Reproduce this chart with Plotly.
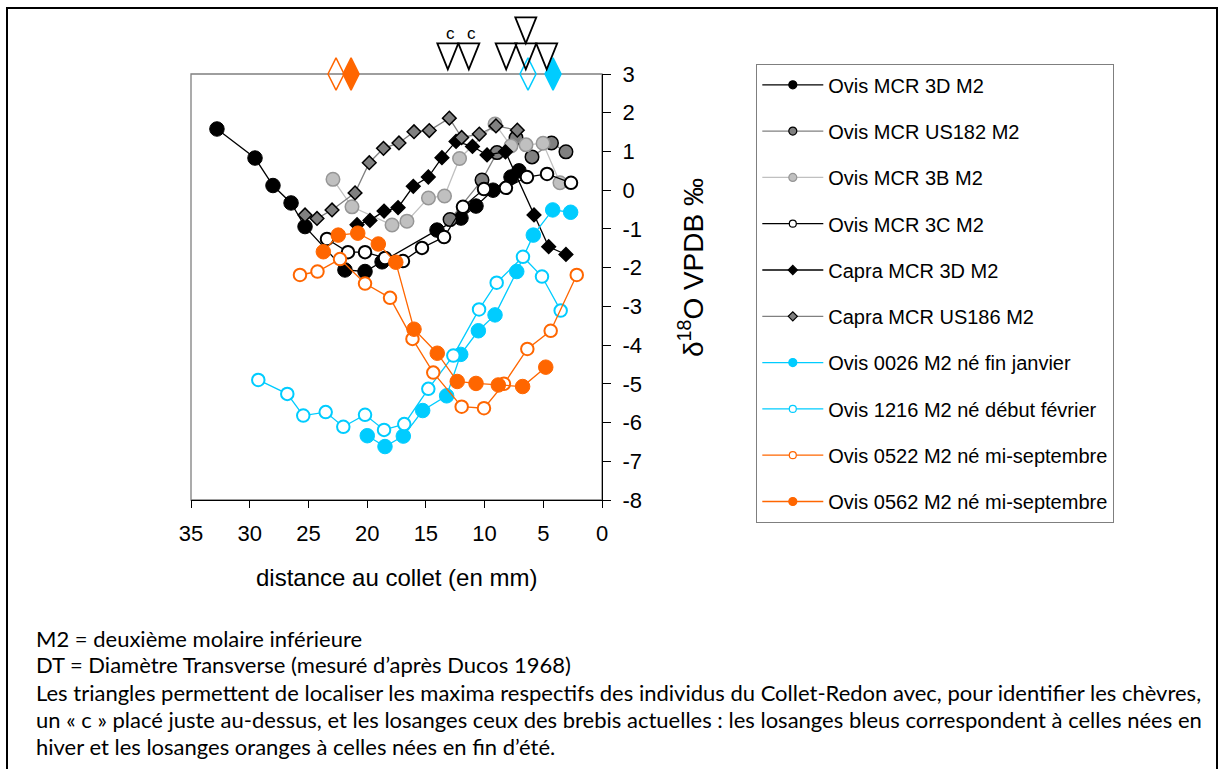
import plotly.graph_objects as go

# ---------------- data (distance au collet in mm, d18O in per mil) ----------------
ovis_3d_x = [32.79, 29.55, 28.02, 26.48, 25.29, 21.89, 20.18, 18.73, 14.05, 12.01, 10.73, 9.28, 7.75, 7.07]
ovis_3d_y = [1.58, 0.83, 0.12, -0.33, -0.94, -2.06, -2.10, -1.85, -1.03, -0.72, -0.41, 0.00, 0.34, 0.50]

ovis_us182_x = [12.94, 10.22, 8.94, 7.32, 5.96, 4.30, 3.07]
ovis_us182_y = [-0.76, 0.26, 0.97, 1.35, 0.86, 1.22, 0.99]

ovis_3b_x = [22.91, 21.29, 17.88, 16.61, 14.78, 13.41, 12.13, 9.11, 7.75, 6.47, 5.02, 3.58]
ovis_3b_y = [0.28, -0.43, -0.90, -0.80, -0.20, -0.15, 0.82, 1.71, 1.14, 1.17, 1.21, 0.19]

ovis_3c_x = [23.42, 21.63, 20.18, 18.48, 16.95, 15.33, 13.45, 11.84, 10.05, 8.18, 6.39, 4.68, 2.64]
ovis_3c_y = [-1.26, -1.60, -1.60, -1.75, -1.83, -1.49, -1.21, -0.43, 0.03, 0.06, 0.34, 0.42, 0.19]

capra_3d_x = [20.86, 19.76, 18.56, 17.37, 16.07, 14.79, 13.63, 12.43, 11.03, 9.79, 8.22, 5.79, 4.54, 3.07]
capra_3d_y = [-0.89, -0.78, -0.54, -0.45, 0.10, 0.34, 0.84, 1.26, 1.13, 0.91, 0.99, -0.64, -1.46, -1.66]

capra_us186_x = [25.29, 24.27, 22.99, 21.03, 19.82, 18.61, 17.29, 16.01, 14.71, 13.00, 11.95, 10.45, 9.03, 7.21]
capra_us186_y = [-0.64, -0.73, -0.51, -0.07, 0.71, 1.08, 1.22, 1.51, 1.54, 1.86, 1.36, 1.45, 1.66, 1.55]

ovis_0026_x = [19.99, 18.48, 16.92, 15.27, 13.23, 12.03, 10.53, 9.11, 7.26, 5.85, 4.20, 2.67]
ovis_0026_y = [-6.34, -6.62, -6.35, -5.69, -5.31, -4.24, -3.63, -3.22, -2.10, -1.16, -0.51, -0.57]

ovis_1216_x = [29.27, 26.80, 25.44, 23.53, 22.03, 20.18, 18.56, 16.84, 14.79, 12.66, 10.47, 8.97, 6.73, 5.11, 3.52]
ovis_1216_y = [-4.90, -5.26, -5.82, -5.73, -6.11, -5.80, -6.19, -6.04, -5.13, -4.27, -3.08, -2.39, -1.72, -2.23, -3.11]

ovis_0522_x = [25.72, 24.23, 22.31, 20.18, 18.05, 16.14, 14.37, 11.95, 10.05, 8.35, 6.36, 4.37, 2.15]
ovis_0522_y = [-2.19, -2.10, -1.78, -2.41, -2.78, -3.84, -4.71, -5.59, -5.63, -5.00, -4.10, -3.63, -2.19]

ovis_0562_x = [23.73, 22.46, 20.80, 19.05, 17.56, 16.01, 14.03, 12.33, 10.73, 8.83, 6.76, 4.79]
ovis_0562_y = [-1.59, -1.16, -1.11, -1.39, -1.86, -3.59, -4.21, -4.94, -4.99, -5.03, -5.07, -4.57]

# maxima markers drawn along the top edge (distance in mm)
max_summer_open = [22.65]
max_summer_filled = [21.37]
max_winter_open = [6.30]
max_winter_filled = [4.17]
max_goats = [13.13, 11.34]           # triangles with a "c"
max_sheep_row = [8.16, 6.49, 4.71]   # triangles, first row
max_sheep_stack = [6.49]             # triangle stacked above
top_value = 3

x_ticks = [35, 30, 25, 20, 15, 10, 5, 0]
y_ticks = [3, 2, 1, 0, -1, -2, -3, -4, -5, -6, -7, -8]
y_tick_text = ["3", "2", "1", "0", "-1", "-2", "-3", "-4", "-5", "-6", "-7", "-8"]

caption_lines = [
    "M2 = deuxième molaire inférieure",
    "DT = Diamètre Transverse (mesuré d’après Ducos 1968)",
    "Les triangles permettent de localiser les maxima respectifs des individus du Collet-Redon avec, pour identifier les chèvres,",
    "un « c » placé juste au-dessus, et les losanges ceux des brebis actuelles : les losanges bleus correspondent à celles nées en",
    "hiver et les losanges oranges à celles nées en fin d’été.",
]

# ---------------- layout geometry ----------------
W, H = 1225, 769
PL, PR, PT, PB = 191, 602, 74, 500


def px_x(px):
    return (px - PL) / (PR - PL)


def px_y(py):
    return (PB - py) / (PB - PT)


ARIAL = "Liberation Sans, Arial, sans-serif"
BLACK = "#000000"
CYAN = "#00ccff"
ORANGE = "#ff6600"

series = [
    dict(name="Ovis MCR 3D M2", x=ovis_3d_x, y=ovis_3d_y, line=BLACK, symbol="circle",
         fill=BLACK, edge=BLACK, size=14.5, ew=1, lsize=8),
    dict(name="Ovis MCR US182 M2", x=ovis_us182_x, y=ovis_us182_y, line="#808080", symbol="circle",
         fill="#808080", edge=BLACK, size=13.5, ew=1.5, lsize=8),
    dict(name="Ovis MCR 3B M2", x=ovis_3b_x, y=ovis_3b_y, line="#c0c0c0", symbol="circle",
         fill="#c0c0c0", edge="#969696", size=13.5, ew=1.5, lsize=8),
    dict(name="Ovis MCR 3C M2", x=ovis_3c_x, y=ovis_3c_y, line=BLACK, symbol="circle",
         fill="#ffffff", edge=BLACK, size=12.5, ew=2, lsize=7),
    dict(name="Capra MCR 3D M2", x=capra_3d_x, y=capra_3d_y, line=BLACK, symbol="diamond",
         fill=BLACK, edge=BLACK, size=10.5, ew=1.5, lsize=7),
    dict(name="Capra MCR US186 M2", x=capra_us186_x, y=capra_us186_y, line="#808080", symbol="diamond",
         fill="#808080", edge=BLACK, size=10.5, ew=1.5, lsize=7),
    dict(name="Ovis 0026 M2 né fin janvier", x=ovis_0026_x, y=ovis_0026_y, line=CYAN, symbol="circle",
         fill=CYAN, edge=CYAN, size=14.5, ew=1, lsize=8),
    dict(name="Ovis 1216 M2 né début février", x=ovis_1216_x, y=ovis_1216_y, line=CYAN, symbol="circle",
         fill="#ffffff", edge=CYAN, size=12.5, ew=2, lsize=7),
    dict(name="Ovis 0522 M2 né mi-septembre", x=ovis_0522_x, y=ovis_0522_y, line=ORANGE, symbol="circle",
         fill="#ffffff", edge=ORANGE, size=12.5, ew=2, lsize=7),
    dict(name="Ovis 0562 M2 né mi-septembre", x=ovis_0562_x, y=ovis_0562_y, line=ORANGE, symbol="circle",
         fill=ORANGE, edge=ORANGE, size=14.5, ew=1, lsize=8),
]

fig = go.Figure()

for i, s in enumerate(series):
    fig.add_trace(go.Scatter(
        x=s["x"], y=s["y"], mode="lines+markers", name=s["name"], showlegend=False,
        line=dict(color=s["line"], width=1.3),
        marker=dict(symbol=s["symbol"], size=s["size"], color=s["fill"],
                    line=dict(color=s["edge"], width=s["ew"])),
        cliponaxis=False,
    ))

# legend-only entries (small markers as in the reference legend)
for i, s in enumerate(series):
    fig.add_trace(go.Scatter(
        x=[None], y=[None], mode="lines+markers", name=s["name"], showlegend=True,
        legendgroup="g%d" % i,
        line=dict(color=s["line"], width=1.3),
        marker=dict(symbol=s["symbol"], size=s["lsize"], color=s["fill"],
                    line=dict(color=s["edge"], width=1.2)),
    ))

# maxima diamonds on the top edge
for xs, col, sym in [(max_summer_open, ORANGE, "diamond-tall-open"),
                     (max_summer_filled, ORANGE, "diamond-tall"),
                     (max_winter_open, CYAN, "diamond-tall-open"),
                     (max_winter_filled, CYAN, "diamond-tall")]:
    fig.add_trace(go.Scatter(
        x=xs, y=[top_value] * len(xs), mode="markers", showlegend=False, cliponaxis=False,
        marker=dict(symbol=sym, size=23, color=col, line=dict(color=col, width=1.5)),
        hoverinfo="skip",
    ))

shapes = []
# plot frame (grey top/left edges)
shapes.append(dict(type="rect", xref="paper", yref="paper", x0=0, x1=1, y0=0, y1=1,
                   line=dict(color="#7f7f7f", width=1.3), layer="below"))
# outer border
shapes.append(dict(type="rect", xref="paper", yref="paper",
                   x0=px_x(7), x1=px_x(1217), y0=px_y(800), y1=px_y(8),
                   line=dict(color=BLACK, width=2)))

TRI_HALF, TRI_H = 10.5, 26


def tri(xv, base):
    # x from the data axis; vertical placement in pixels above the top edge of the plot
    return dict(type="path", xref="x", yref="paper", xsizemode="pixel", ysizemode="pixel",
                xanchor=xv, yanchor=1,
                path="M-%g,%g L%g,%g L0,%g Z" % (TRI_HALF, base + TRI_H, TRI_HALF, base + TRI_H, base),
                line=dict(color=BLACK, width=1.8), fillcolor="rgba(0,0,0,0)")


for xv in max_goats + max_sheep_row:
    shapes.append(tri(xv, 4.7))
for xv in max_sheep_stack:
    shapes.append(tri(xv, 4.7 + TRI_H))

annotations = []
for xv in max_goats:
    annotations.append(dict(x=xv, y=top_value, xref="x", yref="y", text="c", showarrow=False,
                            xshift=3, yshift=41, font=dict(family=ARIAL, size=17, color=BLACK)))

# axis titles
annotations.append(dict(x=0.5, y=px_y(577), xref="paper", yref="paper",
                        xanchor="center", yanchor="middle",
                        text="distance au collet (en mm)", showarrow=False,
                        font=dict(family=ARIAL, size=24, color=BLACK)))
annotations.append(dict(x=px_x(691), y=px_y(268), xref="paper", yref="paper",
                        xanchor="center", yanchor="middle",
                        text="δ<sup>18</sup>O VPDB ‰", textangle=-90, showarrow=False,
                        font=dict(family=ARIAL, size=28, color=BLACK)))

# caption
cap_y = [638, 664, 692, 719, 746]
for t, yy in zip(caption_lines, cap_y):
    annotations.append(dict(x=px_x(34), y=px_y(yy), xref="paper", yref="paper", text=t,
                            showarrow=False, xanchor="left", yanchor="middle",
                            font=dict(family="Lato, sans-serif", size=22, color=BLACK)))

fig.update_layout(
    width=W, height=H,
    margin=dict(l=PL, r=W - PR, t=PT, b=H - PB, pad=0),
    paper_bgcolor="white", plot_bgcolor="white",
    showlegend=True,
    legend=dict(x=px_x(756), y=px_y(64), xanchor="left", yanchor="top",
                bordercolor="#7f7f7f", borderwidth=1.3, bgcolor="white",
                font=dict(family=ARIAL, size=20, color=BLACK),
                traceorder="grouped", tracegroupgap=17.3, itemwidth=61, maxheight=700),
    xaxis=dict(range=[35, 0], tickvals=x_ticks, ticks="outside", ticklen=7, tickwidth=1.3,
               tickcolor=BLACK, showline=True, linecolor=BLACK, linewidth=1.3,
               showgrid=False, zeroline=False, ticklabelstandoff=6,
               tickfont=dict(family=ARIAL, size=22, color=BLACK)),
    yaxis=dict(range=[-8, 3], tickvals=y_ticks, ticktext=y_tick_text, side="right",
               ticks="outside", ticklen=8, tickwidth=1.3, tickcolor=BLACK, showline=True,
               linecolor=BLACK, linewidth=1.3, showgrid=False, zeroline=False,
               ticklabelstandoff=7,
               tickfont=dict(family=ARIAL, size=22, color=BLACK)),
    shapes=shapes,
    annotations=annotations,
)

fig.write_html("out.html", config={"displayModeBar": False},
               post_script="document.body.style.margin='0px';")
